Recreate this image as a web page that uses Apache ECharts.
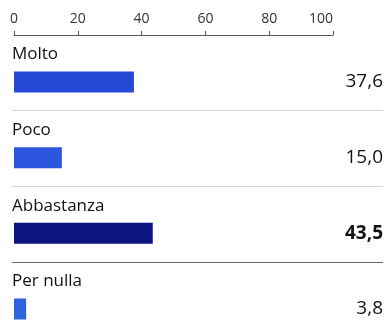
<!DOCTYPE html>
<html><head><meta charset="utf-8">
<script src="https://cdn.jsdelivr.net/npm/echarts@6/dist/echarts.min.js"></script>
<style>html,body{margin:0;padding:0;background:#fff}#c{width:387px;height:329px}</style>
</head><body><div id="c"></div>
<script>
const categories = ['Molto', 'Poco', 'Abbastanza', 'Per nulla'];
const values = [37.6, 15.0, 43.5, 3.8];
const valueLabels = ['37,6', '15,0', '43,5', '3,8'];
const axisMin = 0, axisMax = 100, axisStep = 20;
const separatorRows = ['s1', 's2', 's3'];

const barColors = ['#2449d6', '#2b55dc', '#0b1580', '#2d62e0'];
const sepColors = ['#d4d4d4', '#d4d4d4', '#6a6a6a'];
const FONT = 'Open Sans';

const chart = echarts.init(document.getElementById('c'), null, {renderer: 'canvas'});
chart.setOption({
  animation: false,
  textStyle: {fontFamily: FONT},
  grid: [
    {left: 14, right: 54, top: 82, height: 227},
    {left: 12, right: 4, top: 110, height: 152}
  ],
  xAxis: [
    {type: 'value', gridIndex: 0, position: 'top', min: axisMin, max: axisMax, interval: axisStep, offset: 47,
     axisLine: {show: true, lineStyle: {color: '#555', width: 1}},
     axisTick: {show: true, length: 4, lineStyle: {color: '#555'}},
     axisLabel: {color: '#333', fontSize: 14, margin: 9, fontFamily: FONT, alignMaxLabel: 'right'},
     splitLine: {show: false}},
    {type: 'value', gridIndex: 1, show: false}
  ],
  yAxis: [
    {type: 'category', gridIndex: 0, data: categories, inverse: true, boundaryGap: false, show: false},
    {type: 'category', gridIndex: 0, position: 'right', data: valueLabels, inverse: true, boundaryGap: false,
     axisLine: {show: false}, axisTick: {show: false}, splitLine: {show: false},
     axisLabel: {align: 'right', margin: 50, fontFamily: FONT,
       formatter: (v, i) => (i === 2 ? '{b|' + v + '}' : '{n|' + v + '}'),
       rich: {
         b: {fontSize: 19, fontWeight: 'bold', color: '#111', fontFamily: FONT},
         n: {fontSize: 19, fontWeight: 500, color: '#111', fontFamily: FONT}
       }}},
    {type: 'category', gridIndex: 1, data: separatorRows, inverse: true, boundaryGap: false,
     axisLine: {show: false}, axisTick: {show: false}, axisLabel: {show: false},
     splitLine: {show: true, lineStyle: {color: sepColors, width: 1}}}
  ],
  series: [{
    type: 'bar', xAxisIndex: 0, yAxisIndex: 0, barWidth: 21,
    data: values.map((v, i) => ({value: v, itemStyle: {color: barColors[i]}})),
    label: {show: true, position: [-2, -17], align: 'left', verticalAlign: 'middle',
      formatter: p => categories[p.dataIndex], fontSize: 17, color: '#111', fontFamily: FONT}
  }]
});
</script></body></html>
